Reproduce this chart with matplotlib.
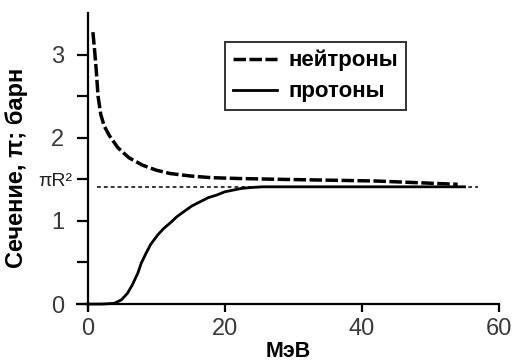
import matplotlib
matplotlib.use("Agg")
import matplotlib.pyplot as plt

plt.rcParams['font.family'] = ['Liberation Sans', 'DejaVu Sans']

# Neutron cross-section vs energy (MeV, barn)
neutron_e = [0.75, 1.0, 1.25, 1.5, 1.9, 2.4, 3.2, 4.4, 6.0, 8.0, 10.0, 12.0,
             15.0, 18.0, 22.0, 28.0, 35.0, 42.0, 48.0, 54.0]
neutron_s = [3.27, 3.05, 2.80, 2.50, 2.28, 2.14, 2.02, 1.88, 1.76, 1.67, 1.61,
             1.57, 1.54, 1.52, 1.51, 1.50, 1.49, 1.48, 1.46, 1.44]

# Proton cross-section vs energy (MeV, barn)
proton_e = [0.0, 2.0, 3.2, 3.9, 4.9, 5.8, 6.5, 7.3, 7.8, 8.5, 9.2, 10.2, 11.1,
            12.1, 13.0, 14.0, 15.2, 16.4, 17.6, 18.8, 20.0, 21.2, 22.4, 23.6,
            25.5, 28.0, 35.0, 45.0, 55.0]
proton_s = [0.0, 0.0, 0.005, 0.01, 0.05, 0.13, 0.23, 0.37, 0.49, 0.61, 0.72,
            0.83, 0.91, 0.98, 1.05, 1.11, 1.18, 1.23, 1.28, 1.31, 1.35, 1.37,
            1.39, 1.40, 1.41, 1.41, 1.41, 1.41, 1.41]

# Geometric cross-section pi*R^2
geom_s = 1.41
geom_e = [1.3, 56.9]

x_ticks = [0, 20, 40, 60]
y_ticks = [0, 1, 2, 3]
y_minor = [0.5, 1.5, 2.5]

fig = plt.figure(figsize=(5.19, 3.62), dpi=100)
ax = fig.add_axes([0.148, 0.144, 0.813, 0.820])

ax.plot(neutron_e, neutron_s, color='black', lw=2.5, ls=(0, (3.6, 1.0)),
        label='нейтроны')
ax.plot(proton_e, proton_s, color='black', lw=2.0, ls='-', label='протоны')
ax.plot(geom_e, [geom_s, geom_s], color='black', lw=1.1, ls=(0, (2.5, 2)))

ax.set_xlim(-1.6, 60)
ax.set_ylim(-0.07, 3.5)

for side in ('top', 'right'):
    ax.spines[side].set_visible(False)
ax.spines['left'].set_position(('data', 0))
ax.spines['bottom'].set_position(('data', 0))
ax.spines['left'].set_linewidth(1.6)
ax.spines['bottom'].set_linewidth(1.6)

ax.set_xticks(x_ticks)
ax.set_yticks(y_ticks)
ax.set_yticks(y_minor, minor=True)
ax.tick_params(axis='x', direction='out', length=6, width=1.6, pad=4,
               labelsize=17, labelcolor='#3a3a3a')
ax.tick_params(axis='y', which='both', direction='out', length=8, width=1.6,
               pad=9, labelsize=17, labelcolor='#3a3a3a')

ax.annotate('πR²', xy=(0, 1.47), xytext=(-11, 0), textcoords='offset points',
            ha='right', va='center', fontsize=14, color='#222222')

ax.set_xlabel('МэВ', fontsize=15.5, fontweight='bold')
ax.xaxis.set_label_coords(0.5, -0.105)
ax.set_ylabel('Сечение, π; барн', fontsize=17, fontweight='bold')
ax.yaxis.set_label_coords(-0.115, 0.48)

leg = ax.legend(loc='upper left', bbox_to_anchor=(0.351, 0.902),
                prop={'weight': 'bold', 'size': 16}, frameon=True,
                fancybox=False, edgecolor='black', handlelength=2.0,
                handletextpad=0.5, borderpad=0.35, labelspacing=0.45,
                borderaxespad=0)
leg.get_frame().set_linewidth(1.4)

fig.savefig('out.png', dpi=100)
